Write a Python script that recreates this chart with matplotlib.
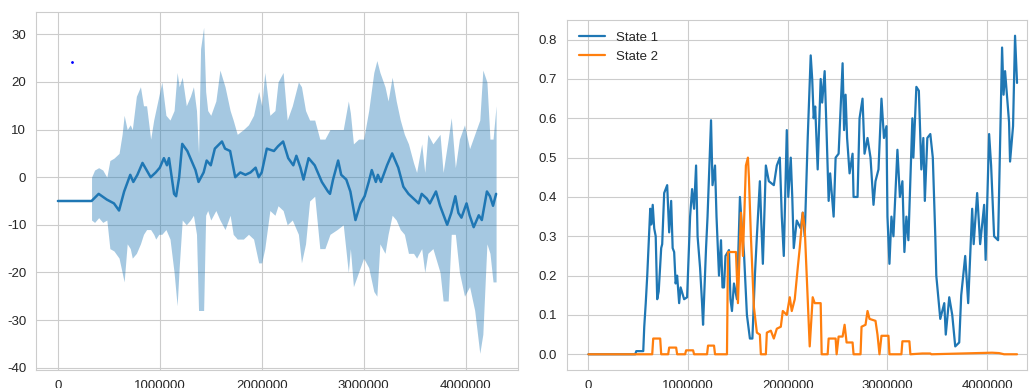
import matplotlib
matplotlib.use("Agg")
import matplotlib.pyplot as plt
import seaborn as sns

sns.set_style("whitegrid")
plt.rcParams["font.family"] = ["Liberation Sans", "DejaVu Sans"]

# ---- left panel: mean reward with spread band (steps in millions) ----
x_mean = [0, 0.33, 0.40, 0.48, 0.55, 0.60, 0.65, 0.71, 0.74, 0.78, 0.83, 0.87, 0.91,
          0.96, 1.00, 1.04, 1.07, 1.09, 1.14, 1.16, 1.19, 1.22, 1.27, 1.32, 1.35,
          1.38, 1.43, 1.46, 1.50, 1.54, 1.61, 1.64, 1.69, 1.74, 1.79, 1.84, 1.89,
          1.94, 1.97, 2.00, 2.05, 2.12, 2.16, 2.21, 2.26, 2.31, 2.34, 2.38, 2.41,
          2.46, 2.52, 2.59, 2.65, 2.67, 2.70, 2.75, 2.78, 2.83, 2.87, 2.92, 2.97,
          3.01, 3.05, 3.08, 3.12, 3.14, 3.17, 3.23, 3.28, 3.34, 3.39, 3.44, 3.49,
          3.54, 3.57, 3.62, 3.65, 3.71, 3.75, 3.82, 3.86, 3.90, 3.93, 3.96, 4.01,
          4.04, 4.08, 4.13, 4.16, 4.21, 4.24, 4.27, 4.30]
mean = [-5, -5, -3.5, -4.7, -5.5, -7, -3, 0.5, -1, 0.5, 3, 1.5, 0,
        1, 2, 4, 2.5, 4, -3.5, -4, 0, 7, 5.5, 3, 1.5,
        -1, 1, 3.5, 2.5, 6, 7.5, 6, 5.5, 0, 1, 0.5, 1,
        2, 0, 1, 6, 5.5, 6.5, 7.5, 4, 2.5, 4.5, 2, -0.5,
        4, 2.5, -1, -3, -3.5, -0.5, 3.5, 0.5, -0.5, -3, -9, -5.5,
        -4, -1, 1.5, -1, 0.5, -1, 2.5, 5, 2, -2, -3.5, -4.5,
        -5.5, -3.5, -4.5, -5.5, -3, -6, -10, -7.5, -4, -7.5, -8.5, -5.5,
        -8, -10.5, -8, -9, -3, -4, -6, -3.5]

x_band = [0.33, 0.36, 0.40, 0.44, 0.48, 0.51, 0.55, 0.60, 0.63, 0.65, 0.68, 0.71,
          0.73, 0.77, 0.81, 0.84, 0.87, 0.91, 0.94, 0.96, 0.99, 1.02, 1.06,
          1.10, 1.14, 1.17, 1.19, 1.22, 1.26, 1.30, 1.33, 1.36, 1.38, 1.40,
          1.43, 1.45, 1.47, 1.50, 1.55, 1.59, 1.64, 1.69, 1.72, 1.76, 1.82,
          1.87, 1.92, 1.97, 2.00, 2.03, 2.08, 2.13, 2.16, 2.21, 2.25, 2.30,
          2.36, 2.39, 2.43, 2.47, 2.52, 2.57, 2.62, 2.67, 2.74, 2.80, 2.85,
          2.87, 2.90, 2.95, 3.00, 3.05, 3.10, 3.13, 3.16, 3.21, 3.24, 3.28,
          3.32, 3.36, 3.40, 3.44, 3.49, 3.52, 3.57, 3.60, 3.63, 3.68, 3.75,
          3.78, 3.83, 3.86, 3.90, 3.94, 3.99, 4.04, 4.09, 4.14, 4.17, 4.21,
          4.24, 4.27, 4.30]
band_hi = [0, 1.5, 2, 1.5, 0, 3.5, 4, 5, 9, 13, 10, 11,
           10, 17, 19, 15, 15, 8, 12, 14, 17, 20, 13,
           12, 14, 22, 19, 21, 15, 17, 19, 14, 5, 27,
           31.5, 18, 14, 13, 16, 22.5, 19, 14, 12, 9, 10,
           11, 13, 18, 15, 22, 13, 14, 20, 22, 12, 15,
           20, 19, 14, 12, 12, 8, 8, 10, 10, 10, 16,
           13.5, 7, 8, 8, 14, 22, 24.5, 22, 19, 16, 21,
           16, 12, 9, 7, 3, 1, 7, 1, 9, 7, 9,
           1, 8, 12.5, 2, 8, 11, 6, 9, 12, 22.5, 20,
           8, 8, 15]
band_lo = [-9, -9.5, -8.5, -9.5, -9, -15, -15.5, -17, -20, -22, -14, -15,
           -17, -16, -14, -12, -11, -11, -12, -13, -12, -12, -11,
           -13, -20, -27, -19, -9, -10, -9, -8, -12, -28, -28,
           -28, -8, -7, -9, -7, -9, -11, -8, -12, -13, -13,
           -12, -13, -18, -18, -15, -7, -8, -6, -7, -10, -9,
           -12, -18, -14, -5, -4, -15, -15, -12, -11, -10, -20,
           -15, -23, -20, -17, -19, -24, -25, -14, -16, -12, -8,
           -9, -11, -12, -16, -16, -17, -15, -20, -16, -15, -20,
           -26, -26, -12, -12, -20, -25, -23, -28, -37, -33, -14,
           -16, -22, -22]

# single marker in the upper-left corner
marker_x = [0.134]
marker_y = [24.1]

# ---- right panel: state occupancy ----
x_s1 = [0, 0.47, 0.48, 0.55, 0.56, 0.575, 0.59, 0.62, 0.63, 0.645, 0.66, 0.675, 0.69,
        0.705, 0.73, 0.74, 0.76, 0.79, 0.81, 0.83, 0.845, 0.86, 0.875, 0.89, 0.91,
        0.925, 0.96, 0.99, 1.02, 1.04, 1.06, 1.08, 1.095, 1.12, 1.14, 1.15, 1.18,
        1.195, 1.23, 1.245, 1.27, 1.285, 1.31, 1.33, 1.345, 1.36, 1.375, 1.41, 1.425,
        1.44, 1.46, 1.49, 1.52, 1.54, 1.56, 1.59, 1.62, 1.645, 1.67, 1.69, 1.72,
        1.735, 1.75, 1.78, 1.81, 1.86, 1.89, 1.92, 1.94, 1.96, 1.99, 2.005, 2.03,
        2.045, 2.06, 2.09, 2.13, 2.15, 2.17, 2.20, 2.23, 2.245, 2.26, 2.275, 2.30,
        2.33, 2.345, 2.37, 2.385, 2.41, 2.425, 2.46, 2.48, 2.51, 2.55, 2.565, 2.58,
        2.595, 2.62, 2.65, 2.66, 2.70, 2.72, 2.75, 2.77, 2.80, 2.83, 2.86, 2.88,
        2.91, 2.94, 2.965, 2.99, 3.00, 3.02, 3.04, 3.06, 3.10, 3.125, 3.15, 3.17,
        3.19, 3.21, 3.25, 3.26, 3.29, 3.315, 3.34, 3.36, 3.375, 3.40, 3.43, 3.455,
        3.48, 3.49, 3.53, 3.57, 3.585, 3.62, 3.65, 3.68, 3.72, 3.74, 3.78, 3.81,
        3.85, 3.865, 3.90, 3.93, 3.97, 3.985, 4.02, 4.04, 4.07, 4.11, 4.15, 4.165,
        4.18, 4.22, 4.23, 4.26, 4.28, 4.30]
state1 = [0, 0, 0.008, 0.008, 0.07, 0.13, 0.2, 0.37, 0.33, 0.38, 0.32, 0.3, 0.14,
          0.16, 0.27, 0.28, 0.41, 0.43, 0.31, 0.39, 0.27, 0.26, 0.18, 0.2, 0.13,
          0.17, 0.14, 0.145, 0.35, 0.42, 0.37, 0.48, 0.3, 0.22, 0.13, 0.075, 0.27,
          0.35, 0.595, 0.43, 0.48, 0.35, 0.2, 0.29, 0.17, 0.17, 0.25, 0.265, 0.14,
          0.11, 0.18, 0.14, 0.4, 0.32, 0.26, 0.1, 0.04, 0.04, 0.2, 0.3, 0.44,
          0.33, 0.23, 0.48, 0.44, 0.43, 0.48, 0.5, 0.35, 0.25, 0.57, 0.4, 0.5,
          0.4, 0.27, 0.34, 0.32, 0.36, 0.3, 0.55, 0.76, 0.7, 0.6, 0.63, 0.47,
          0.7, 0.64, 0.72, 0.6, 0.39, 0.46, 0.35, 0.5, 0.51, 0.74, 0.57, 0.66,
          0.55, 0.46, 0.51, 0.4, 0.4, 0.6, 0.65, 0.51, 0.55, 0.5, 0.38, 0.44,
          0.47, 0.65, 0.55, 0.58, 0.35, 0.23, 0.35, 0.3, 0.52, 0.4, 0.44, 0.26,
          0.35, 0.29, 0.6, 0.5, 0.68, 0.67, 0.47, 0.55, 0.39, 0.55, 0.56, 0.5,
          0.3, 0.2, 0.09, 0.13, 0.05, 0.145, 0.1, 0.02, 0.03, 0.15, 0.25, 0.13,
          0.37, 0.28, 0.41, 0.28, 0.38, 0.24, 0.56, 0.48, 0.3, 0.29, 0.78, 0.66,
          0.72, 0.59, 0.49, 0.58, 0.81, 0.69]

x_s2 = [0, 0.64, 0.65, 0.72, 0.73, 0.80, 0.81, 0.88, 0.89, 0.97, 0.98, 1.05,
        1.06, 1.19, 1.20, 1.26, 1.27, 1.39, 1.40, 1.48, 1.50, 1.53, 1.55, 1.58,
        1.60, 1.61, 1.63, 1.66, 1.69, 1.72, 1.73, 1.78, 1.79, 1.83, 1.86, 1.89,
        1.93, 1.95, 1.99, 2.02, 2.04, 2.07, 2.10, 2.12, 2.15, 2.17, 2.20, 2.22,
        2.25, 2.27, 2.33, 2.34, 2.40, 2.41, 2.48, 2.49, 2.51, 2.55, 2.57, 2.59,
        2.65, 2.66, 2.73, 2.74, 2.78, 2.80, 2.82, 2.88, 2.90, 2.92, 2.94, 3.01,
        3.02, 3.14, 3.15, 3.22, 3.23, 3.35, 3.43, 3.44, 4.05, 4.12, 4.17, 4.30]
state2 = [0, 0, 0.04, 0.04, 0, 0, 0.017, 0.017, 0, 0, 0.01, 0.01,
          0, 0, 0.022, 0.022, 0, 0, 0.26, 0.26, 0.13, 0.36, 0.25, 0.48,
          0.5, 0.45, 0.3, 0.12, 0.055, 0.05, 0, 0, 0.055, 0.06, 0.04, 0.065,
          0.07, 0.11, 0.1, 0.145, 0.11, 0.14, 0.22, 0.27, 0.36, 0.32, 0.14, 0.02,
          0.145, 0.13, 0.13, 0, 0, 0.04, 0.04, 0, 0.045, 0.045, 0.075, 0.03,
          0.03, 0, 0, 0.07, 0.075, 0.11, 0.09, 0.085, 0.05, 0, 0.047, 0.047,
          0, 0, 0.033, 0.033, 0, 0.002, 0.002, 0, 0.004, 0.003, 0, 0]

SCALE = 1e6

fig = plt.figure(figsize=(10.29, 3.88), dpi=100)
W, H = 1029, 388
ax1 = fig.add_axes([36 / W, (H - 370) / H, (518 - 36) / W, (370 - 12) / H])
ax2 = fig.add_axes([567 / W, (H - 370) / H, (1027 - 567) / W, (370 - 20) / H])

xb = [v * SCALE for v in x_band]
ax1.fill_between(xb, band_lo, band_hi, color="C0", alpha=0.4, linewidth=0)
ax1.plot([v * SCALE for v in x_mean], mean, color="C0", linewidth=1.8)
ax1.plot([v * SCALE for v in marker_x], marker_y, "b.", markersize=2)
ax1.set_xlim(-0.215 * SCALE, 4.515 * SCALE)
ax1.set_ylim(-40.5, 34.7)
ax1.set_xticks([0, 1e6, 2e6, 3e6, 4e6])
ax1.set_yticks([-40, -30, -20, -10, 0, 10, 20, 30])

ax2.plot([v * SCALE for v in x_s1], state1, color="C0", linewidth=1.6, label="State 1")
ax2.plot([v * SCALE for v in x_s2], state2, color="C1", linewidth=1.6, label="State 2")
ax2.set_xlim(-0.215 * SCALE, 4.4 * SCALE)
ax2.set_ylim(-0.04, 0.85)
ax2.set_xticks([0, 1e6, 2e6, 3e6, 4e6])
ax2.set_yticks([0.0, 0.1, 0.2, 0.3, 0.4, 0.5, 0.6, 0.7, 0.8])
ax2.legend(loc="upper left", fontsize=9.5, frameon=False)

for ax in (ax1, ax2):
    ax.ticklabel_format(axis="x", style="plain", useOffset=False)
    ax.tick_params(labelsize=9.5, colors=".15")
    ax.set_yticklabels([f"{t:g}" if ax is ax1 else f"{t:.1f}" for t in ax.get_yticks()])
    for s in ax.spines.values():
        s.set_color(".8")

fig.savefig("out.png", dpi=100)
